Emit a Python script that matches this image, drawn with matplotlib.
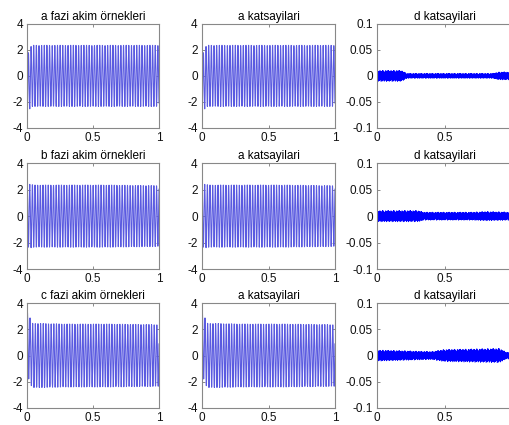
import numpy as np
import matplotlib
matplotlib.use("Agg")
import matplotlib.pyplot as plt

plt.rcParams['font.family'] = ['Liberation Sans', 'DejaVu Sans']
plt.rcParams['font.size'] = 8.5

# ornekleme: 50 Hz faz akimi, 1 saniye
f_sebeke = 50.0
fs = 1010.0
t = np.arange(0, 1.0, 1.0 / fs)

# faz akimlari: genlik ve DC ofset dugumleri (zaman, deger)
faz_adlari = ['a', 'b', 'c']
faz_acilari = [-100.0, 80.0, 40.0]          # derece
genlik_t = [0.0, 0.05, 0.3, 0.6, 1.0]
genlik_a = [2.35, 2.35, 2.35, 2.35, 2.35]
genlik_b = [2.45, 2.35, 2.35, 2.35, 2.3]
genlik_c = [2.5, 2.45, 2.4, 2.4, 2.35]
ofset_t = [0.0, 0.01, 0.02, 0.04, 1.0]
ofset_a = [-1.2, -0.6, -0.2, 0.0, 0.0]
ofset_b = [0.15, 0.08, 0.0, 0.0, 0.0]
ofset_c = [0.9, 0.8, 0.45, 0.0, 0.0]

# d katsayilari: zarf dugumleri ve baslangic tepeleri
d_zarf_t = [[0.0, 0.18, 0.22, 0.85, 0.9, 1.0],
            [0.0, 0.3, 0.35, 0.7, 0.8, 1.0],
            [0.0, 0.4, 0.5, 0.9, 0.95, 1.0]]
d_zarf = [[0.011, 0.011, 0.005, 0.005, 0.008, 0.008],
          [0.011, 0.011, 0.008, 0.008, 0.009, 0.008],
          [0.011, 0.008, 0.012, 0.014, 0.007, 0.007]]
d_tepe_ust = [0.012, 0.065, 0.045]
d_tepe_alt = [-0.012, -0.05, -0.055]
d_desen = [0.62, -0.91, 0.35, -0.18, 0.97, -0.54, 0.08, -0.77, 0.44, -0.29,
           0.83, -0.66, 0.21, -0.95, 0.57, -0.12, 0.71, -0.48, 0.33, -0.86,
           0.15, -0.39, 0.92, -0.61, 0.27, -0.73, 0.49, -0.05, 0.88, -0.34,
           0.64, -0.99, 0.11, -0.52, 0.78, -0.23, 0.41, -0.81, 0.69, -0.14,
           0.95]

basliklar = [['a fazi akim örnekleri', 'a katsayilari', 'd katsayilari'],
             ['b fazi akim örnekleri', 'a katsayilari', 'd katsayilari'],
             ['c fazi akim örnekleri', 'a katsayilari', 'd katsayilari']]

genlikler = [genlik_a, genlik_b, genlik_c]
ofsetler = [ofset_a, ofset_b, ofset_c]


def faz_akimi(i):
    A = np.interp(t, genlik_t, genlikler[i])
    dc = np.interp(t, ofset_t, ofsetler[i])
    return A * np.sin(2 * np.pi * f_sebeke * t + np.deg2rad(faz_acilari[i])) + dc


def d_katsayi(i):
    desen = np.resize(np.array(d_desen), t.size)
    d = desen * np.interp(t, d_zarf_t[i], d_zarf[i])
    d[0] = d_tepe_ust[i]
    d[1] = d_tepe_alt[i]
    return d


fig = plt.figure(figsize=(5.1, 4.25), dpi=100)

# eksen konumlari (sekil orani)
sol = [0.053, 0.396, 0.739]
gen = [0.259, 0.261, 0.267]
alt = [0.699, 0.367, 0.040]
yuk = [0.245, 0.249, 0.247]

for r in range(3):
    akim = faz_akimi(r)
    seriler = [akim, akim, d_katsayi(r)]
    for c in range(3):
        ax = fig.add_axes([sol[c], alt[r], gen[c], yuk[r]])
        if c < 2:
            ax.plot(t, seriler[c], color='#5a5ae0', lw=0.75)
            ax.set_ylim(-4, 4)
            ax.set_yticks([-4, -2, 0, 2, 4])
            ax.set_yticklabels(['-4', '-2', '0', '2', '4'])
        else:
            ax.plot(t, seriler[c], color='#0000ff', lw=0.45)
            ax.set_ylim(-0.1, 0.1)
            ax.set_yticks([-0.1, -0.05, 0, 0.05, 0.1])
            ax.set_yticklabels(['-0.1', '-0.05', '0', '0.05', '0.1'])
        ax.set_xlim(0, 1)
        ax.set_xticks([0, 0.5, 1])
        ax.set_xticklabels(['0', '0.5', '1'])
        ax.tick_params(direction='in', length=2.5, width=0.6, top=True,
                       right=True, colors='#777777', labelcolor='#111111',
                       pad=3)
        for s in ax.spines.values():
            s.set_color('#888888')
            s.set_linewidth(0.8)
        ax.set_title(basliklar[r][c], fontsize=8.5, pad=3)

fig.savefig('out.png', dpi=100)
